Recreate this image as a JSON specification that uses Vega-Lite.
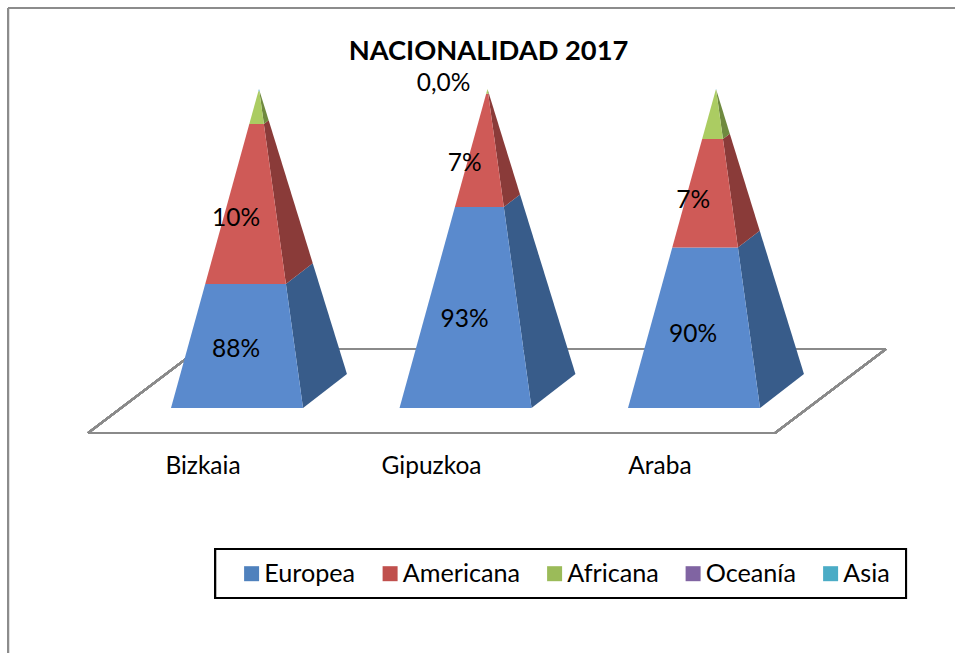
{
"$schema":"https://vega.github.io/schema/vega-lite/v6.json",
"width":955,"height":653,"padding":0,"autosize":{"type":"none"},
"background":"white",
"title":{"text":"NACIONALIDAD 2017","font":"Lato","fontSize":27.3,"fontWeight":"bold","color":"black","anchor":"middle","dx":11,"dy":65,"offset":0,"frame":"group"},
"config":{"view":{"stroke":null},"axis":{"disable":true},"font":"Lato"},
"data":{"values":[
{"provincia":"Bizkaia","nacionalidad":"Europea","valor":"88%","desde":0,"hasta":0.389},
{"provincia":"Bizkaia","nacionalidad":"Americana","valor":"10%","desde":0.389,"hasta":0.89},
{"provincia":"Bizkaia","nacionalidad":"Africana","valor":null,"desde":0.89,"hasta":0.993},
{"provincia":"Bizkaia","nacionalidad":"Oceanía","valor":null,"desde":0.993,"hasta":0.993},
{"provincia":"Bizkaia","nacionalidad":"Asia","valor":null,"desde":0.993,"hasta":1},
{"provincia":"Gipuzkoa","nacionalidad":"Europea","valor":"93%","desde":0,"hasta":0.63},
{"provincia":"Gipuzkoa","nacionalidad":"Americana","valor":"7%","desde":0.63,"hasta":0.985},
{"provincia":"Gipuzkoa","nacionalidad":"Africana","valor":"0,0%","desde":0.985,"hasta":1},
{"provincia":"Gipuzkoa","nacionalidad":"Oceanía","valor":null,"desde":1,"hasta":1},
{"provincia":"Gipuzkoa","nacionalidad":"Asia","valor":null,"desde":1,"hasta":1},
{"provincia":"Araba","nacionalidad":"Europea","valor":"90%","desde":0,"hasta":0.503},
{"provincia":"Araba","nacionalidad":"Americana","valor":"7%","desde":0.503,"hasta":0.843},
{"provincia":"Araba","nacionalidad":"Africana","valor":null,"desde":0.843,"hasta":0.997},
{"provincia":"Araba","nacionalidad":"Oceanía","valor":null,"desde":0.997,"hasta":0.997},
{"provincia":"Araba","nacionalidad":"Asia","valor":null,"desde":0.997,"hasta":1}
]},
"transform":[{"calculate":"indexof(['Bizkaia','Gipuzkoa','Araba'],datum.provincia)","as":"i"}],
"layer":[
{"mark":{"type":"rule","color":"#8c8c8c","strokeWidth":2},
 "encoding":{"x":{"datum":-0.7133,"type":"quantitative","scale":{"domain":[-0.7484,3.431],"nice":false,"zero":false}},"y":{"datum":1.2539,"type":"quantitative","scale":{"domain":[-0.768,1.279],"nice":false,"zero":false}},"x2":{"datum":3.431}}},
{"mark":{"type":"rule","color":"#8c8c8c","strokeWidth":2},
 "encoding":{"x":{"datum":-0.7133,"type":"quantitative"},"y":{"datum":1.2539,"type":"quantitative"},"y2":{"datum":-0.768}}},
{"mark":{"type":"rule","color":"#8a8a8a","strokeWidth":2},
 "encoding":{"x":{"datum":-0.3632,"type":"quantitative"},"x2":{"datum":2.6433},"y":{"datum":-0.0784,"type":"quantitative"}}},
{"mark":{"type":"rule","color":"#8a8a8a","strokeWidth":2},
 "encoding":{"x":{"datum":0.1225,"type":"quantitative"},"x2":{"datum":3.129},"y":{"datum":0.185,"type":"quantitative"}}},
{"mark":{"type":"rule","color":"#8a8a8a","strokeWidth":2},
 "encoding":{"x":{"datum":-0.3632,"type":"quantitative"},"y":{"datum":-0.0784,"type":"quantitative"},"x2":{"datum":0.1225},"y2":{"datum":0.185}}},
{"mark":{"type":"rule","color":"#8a8a8a","strokeWidth":2},
 "encoding":{"x":{"datum":2.6433,"type":"quantitative"},"y":{"datum":-0.0784,"type":"quantitative"},"x2":{"datum":3.129},"y2":{"datum":0.185}}},
{"mark":{"type":"rect","fill":null,"stroke":"black","strokeWidth":2},
 "encoding":{"x":{"datum":0.1926,"type":"quantitative"},"x2":{"datum":3.2166},"y":{"datum":-0.442,"type":"quantitative"},"y2":{"datum":-0.5956}}},
{"transform":[
  {"fold":["desde","hasta"],"as":["extremo","nivel"]},
  {"calculate":"['frente','fondo']","as":"arista"},
  {"flatten":["arista"]},
  {"calculate":"datum.extremo=='desde'?(datum.arista=='frente'?0:1):(datum.arista=='frente'?3:2)","as":"vertice"},
  {"calculate":"datum.i+(datum.arista=='frente'?0.5777-0.1925*datum.nivel:0.77-0.385*datum.nivel)","as":"xs"},
  {"calculate":"datum.arista=='frente'?datum.nivel:0.1066+0.8934*datum.nivel","as":"ys"}
 ],
 "mark":{"type":"line","strokeWidth":0,"interpolate":"linear","clip":false},
 "encoding":{
  "x":{"field":"xs","type":"quantitative"},
  "y":{"field":"ys","type":"quantitative"},
  "order":{"field":"vertice","type":"quantitative"},
  "detail":{"field":"provincia"},
  "fill":{"field":"nacionalidad","type":"nominal","legend":null,"scale":{"domain":["Europea","Americana","Africana","Oceanía","Asia"],"range":["#385C8A","#8A3B39","#6F8A3F","#5B4673","#33798C"]}}
 }},
{"transform":[
  {"fold":["desde","hasta"],"as":["extremo","nivel"]},
  {"calculate":"datum.i+0.385*datum.nivel","as":"izq"},
  {"calculate":"datum.i+0.5777-0.1925*datum.nivel","as":"der"}
 ],
 "mark":{"type":"area","orient":"horizontal"},
 "encoding":{
  "y":{"field":"nivel","type":"quantitative"},
  "x":{"field":"izq","type":"quantitative"},
  "x2":{"field":"der"},
  "detail":{"field":"provincia"},
  "fill":{"field":"nacionalidad","type":"nominal","legend":null,"scale":{"domain":["Europea","Americana","Africana","Oceanía","Asia"],"range":["#5A8ACD","#CF5A57","#ABCC62","#8A70AC","#52B5CF"]}}
 }},
{"transform":[
  {"filter":"datum.valor!=null && datum.valor!='0,0%'"},
  {"calculate":"datum.i+0.285","as":"xt"},
  {"calculate":"1-datum.desde","as":"b1"},
  {"calculate":"1-datum.hasta","as":"b2"},
  {"calculate":"datum.desde+(datum.hasta-datum.desde)*(0.1+0.8*(datum.b1+2*datum.b2)/(3*(datum.b1+datum.b2)))","as":"yt"}
 ],
 "mark":{"type":"text","font":"Lato","fontSize":24.5,"color":"black","align":"center","baseline":"middle"},
 "encoding":{"x":{"field":"xt","type":"quantitative"},"y":{"field":"yt","type":"quantitative"},"text":{"field":"valor"}}},
{"transform":[
  {"filter":"datum.valor=='0,0%'"},
  {"calculate":"datum.i+0.385","as":"xt"}
 ],
 "mark":{"type":"text","font":"Lato","fontSize":24.5,"color":"black","align":"center","baseline":"middle","dx":-44,"dy":-5},
 "encoding":{"x":{"field":"xt","type":"quantitative"},"y":{"field":"hasta","type":"quantitative"},"text":{"field":"valor"}}},
{"transform":[
  {"filter":"datum.nacionalidad=='Europea'"},
  {"calculate":"datum.i+0.14","as":"xt"},
  {"calculate":"-0.185","as":"yt"}
 ],
 "mark":{"type":"text","font":"Lato","fontSize":24.5,"color":"black","align":"center","baseline":"middle"},
 "encoding":{"x":{"field":"xt","type":"quantitative"},"y":{"field":"yt","type":"quantitative"},"text":{"field":"provincia"}}},
{"mark":{"type":"point","opacity":0,"filled":true,"shape":"square"},
 "encoding":{
  "x":{"field":"i","type":"quantitative"},
  "y":{"field":"desde","type":"quantitative"},
  "color":{"field":"nacionalidad","type":"nominal","scale":{"domain":["Europea","Americana","Africana","Oceanía","Asia"],"range":["#4F81BD","#C0504D","#9BBB59","#8064A2","#4BACC6"]},
   "legend":{"title":null,"orient":"none","legendX":239,"legendY":561,"direction":"horizontal","columns":5,"padding":0,"symbolType":"square","symbolSize":225,"symbolOpacity":1,"symbolStrokeWidth":0,"labelFont":"Lato","labelFontSize":25.2,"labelColor":"black","labelOffset":0,"columnPadding":21.5,"labelLimit":200}}
 }}
],
"resolve":{"scale":{"fill":"independent"}}
}
